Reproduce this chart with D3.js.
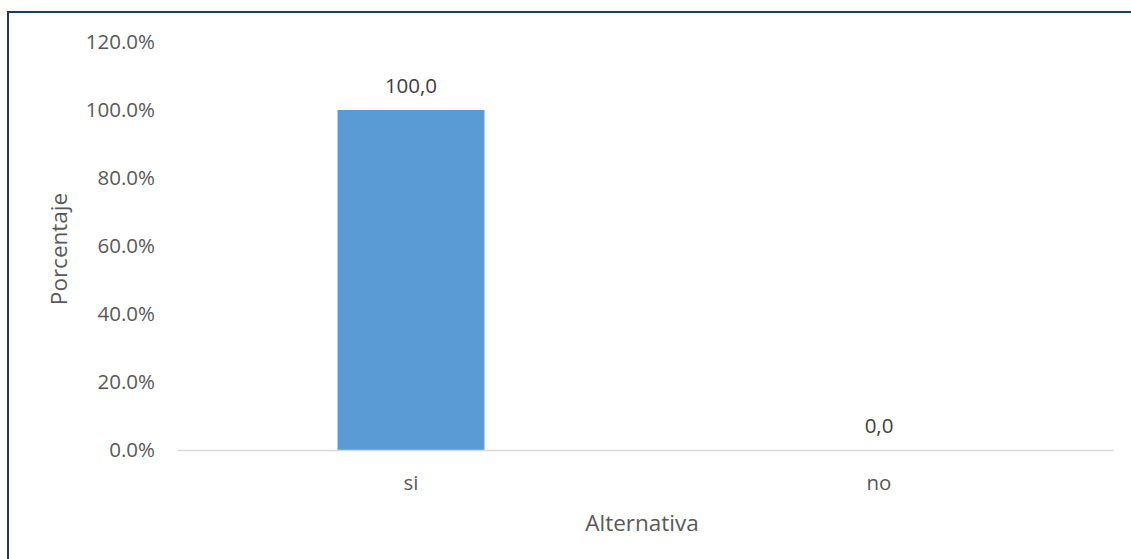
<!DOCTYPE html>
<html>
<head>
<meta charset="utf-8">
<script src="https://cdn.jsdelivr.net/npm/d3@7"></script>
<style>
  html, body { margin: 0; padding: 0; background: #fff; }
  svg { display: block; }
</style>
</head>
<body>
<svg id="chart" width="1131" height="559"></svg>
<script>
// Survey result: share of respondents per answer
const categories = ["si", "no"];
const values = [100.0, 0.0];
const valueLabels = ["100,0", "0,0"];
const yTicks = [0, 20, 40, 60, 80, 100, 120];
const xTitle = "Alternativa";
const yTitle = "Porcentaje";

const W = 1131, H = 559;
const plot = { left: 177, right: 1113, top: 42, bottom: 450 };
const textColor = "#595959";
const font = "'Open Sans', sans-serif";
const tickSize = 20.5;
const titleSize = 22.5;

const svg = d3.select("#chart");

// Outer frame
svg.append("rect")
  .attr("x", 8).attr("y", 12)
  .attr("width", W + 10).attr("height", H + 10)
  .attr("fill", "#fff")
  .attr("stroke", "#1f3864")
  .attr("stroke-width", 2);

const x = d3.scaleBand()
  .domain(categories)
  .range([plot.left, plot.right])
  .paddingInner(0.686)
  .paddingOuter(0.343);

const y = d3.scaleLinear()
  .domain([0, 120])
  .range([plot.bottom, plot.top]);

// Y axis labels (no line, no ticks)
const yAxis = d3.axisLeft(y)
  .tickValues(yTicks)
  .tickFormat(d => d3.format(".1f")(d) + "%")
  .tickSize(0)
  .tickPadding(0);

const gy = svg.append("g")
  .attr("transform", `translate(${plot.left - 22},0)`)
  .call(yAxis);
gy.select(".domain").remove();
gy.selectAll("text")
  .attr("fill", textColor)
  .attr("font-family", font)
  .attr("font-size", tickSize);

// Bars
svg.append("g").selectAll("rect")
  .data(values)
  .join("rect")
  .attr("x", (d, i) => x(categories[i]))
  .attr("y", d => y(d))
  .attr("width", x.bandwidth())
  .attr("height", d => y(0) - y(d))
  .attr("fill", "#5b9bd5");

// X axis
const xAxis = d3.axisBottom(x).tickSize(0).tickPadding(25);
const gx = svg.append("g")
  .attr("transform", `translate(0,${plot.bottom})`)
  .call(xAxis);
gx.select(".domain")
  .attr("stroke", "#d9d9d9")
  .attr("stroke-width", 1.5);
gx.selectAll("text")
  .attr("fill", textColor)
  .attr("font-family", font)
  .attr("font-size", tickSize);

// Value labels
svg.append("g").selectAll("text")
  .data(values)
  .join("text")
  .attr("x", (d, i) => x(categories[i]) + x.bandwidth() / 2)
  .attr("y", d => y(d) - 17.5)
  .attr("text-anchor", "middle")
  .attr("fill", "#404040")
  .attr("font-family", font)
  .attr("font-size", tickSize)
  .text((d, i) => valueLabels[i]);

// Axis titles
svg.append("text")
  .attr("x", 642)
  .attr("y", 531)
  .attr("text-anchor", "middle")
  .attr("fill", textColor)
  .attr("font-family", font)
  .attr("font-size", titleSize)
  .text(xTitle);

svg.append("text")
  .attr("transform", `translate(67,249) rotate(-90)`)
  .attr("text-anchor", "middle")
  .attr("fill", textColor)
  .attr("font-family", font)
  .attr("font-size", titleSize)
  .text(yTitle);
</script>
</body>
</html>
